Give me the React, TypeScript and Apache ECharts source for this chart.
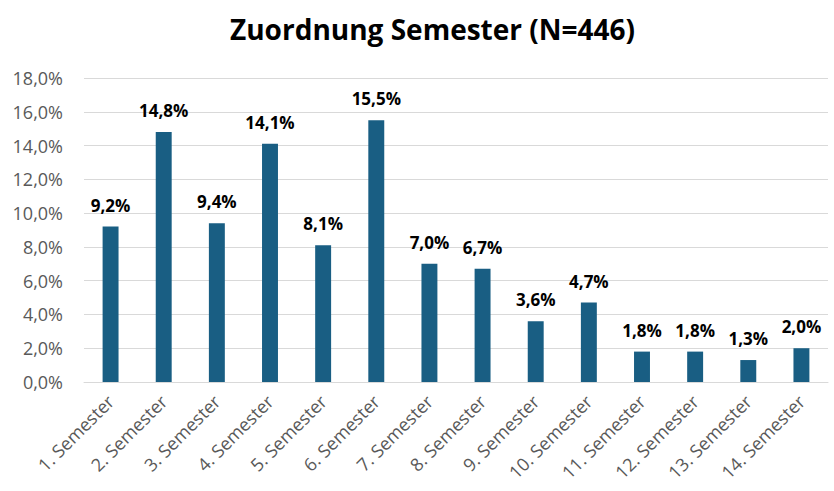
import React, { useEffect, useRef } from "react";
import * as echarts from "echarts";

const categories = [
  "1. Semester", "2. Semester", "3. Semester", "4. Semester", "5. Semester",
  "6. Semester", "7. Semester", "8. Semester", "9. Semester", "10. Semester",
  "11. Semester", "12. Semester", "13. Semester", "14. Semester",
];
const values = [9.2, 14.8, 9.4, 14.1, 8.1, 15.5, 7.0, 6.7, 3.6, 4.7, 1.8, 1.8, 1.3, 2.0];

const fmt = (v: number) => v.toFixed(1).replace(".", ",") + "%";

export default function App() {
  const ref = useRef<HTMLDivElement>(null);
  useEffect(() => {
    const chart = echarts.init(ref.current!, null, { renderer: "svg" });
    chart.setOption({
      animation: false,
      backgroundColor: "#ffffff",
      title: {
        text: "Zuordnung Semester (N=446)",
        left: 225,
        top: 10,
        textStyle: {
          fontFamily: "Open Sans",
          fontSize: 28,
          fontWeight: "bold",
          color: "#000000",
        },
      },
      grid: { left: 84, right: 6, top: 78, bottom: 109, containLabel: false },
      xAxis: {
        type: "category",
        data: categories,
        axisLine: { show: true, lineStyle: { color: "#d9d9d9" } },
        axisTick: { show: false },
        axisLabel: {
          rotate: 45,
          interval: 0,
          margin: 16,
          color: "#595959",
          fontFamily: "Open Sans",
          fontSize: 18,
        },
      },
      yAxis: {
        type: "value",
        min: 0,
        max: 18,
        interval: 2,
        axisLine: { show: false },
        axisTick: { show: false },
        splitLine: { lineStyle: { color: "#d9d9d9" } },
        axisLabel: {
          formatter: (v: number) => fmt(v),
          color: "#595959",
          fontFamily: "Open Sans",
          fontSize: 18,
          margin: 21,
        },
      },
      series: [
        {
          type: "bar",
          data: values,
          barWidth: "30%",
          itemStyle: { color: "#195e83" },
          label: {
            show: true,
            position: "top",
            distance: 13,
            formatter: (p: any) => fmt(p.value),
            color: "#000000",
            fontFamily: "Open Sans",
            fontWeight: "bold",
            fontSize: 17,
          },
        },
      ],
    });
    return () => chart.dispose();
  }, []);
  return <div ref={ref} style={{ width: 834, height: 491, position: "absolute", left: 0, top: 0 }} />;
}
